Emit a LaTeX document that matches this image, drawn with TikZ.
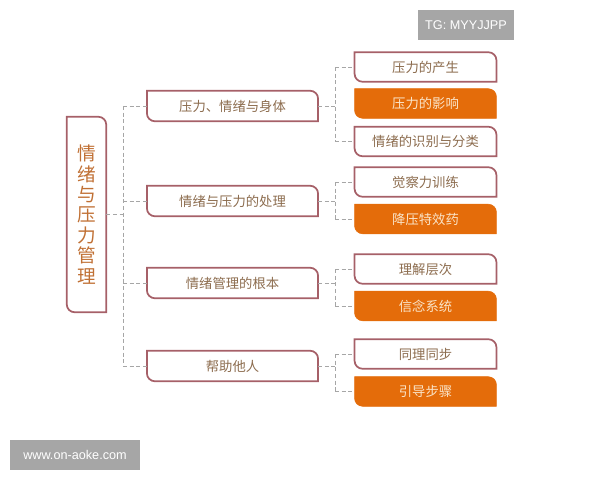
\documentclass[tikz,border=0pt]{standalone}
\usepackage{fontspec}
\newfontfamily\cjk{Noto Sans CJK SC}
\setsansfont{Liberation Sans}
\usepackage{xcolor}
\usepackage{tikz}
\usetikzlibrary{backgrounds}

\definecolor{rim}{RGB}{166,96,104}
\definecolor{tangerine}{RGB}{228,108,10}
\definecolor{cream}{RGB}{250,228,200}
\definecolor{bark}{RGB}{140,108,78}
\definecolor{rust}{RGB}{192,112,52}
\definecolor{stamp}{RGB}{166,166,166}

\tikzset{
  link/.style={draw=gray!70, dashed, dash pattern=on 3pt off 2pt, line width=0.5pt},
  topic/.style={inner sep=0pt, minimum width=128pt, minimum height=22.5pt, text=bark, font=\cjk\fontsize{10}{12}\selectfont},
  item/.style={inner sep=0pt, minimum width=106pt, minimum height=21.75pt, text=bark, font=\cjk\fontsize{10}{12}\selectfont},
  hot/.style={item, text=cream},
  wm/.style={fill=stamp, text=white, inner sep=0pt, minimum height=22.5pt, font=\sffamily\fontsize{9.5}{11}\selectfont}
}

\newcommand\leafpath[1]{(#1.north west) -- ([xshift=-6pt]#1.north east) arc[start angle=90,end angle=0,radius=6pt] -- (#1.south east) -- ([xshift=6pt]#1.south west) arc[start angle=270,end angle=180,radius=6pt] -- cycle}

\begin{document}
\begin{tikzpicture}[x=0.75pt, y=-0.75pt]
\useasboundingbox (0,0) rectangle (600,480);

\node[inner sep=0pt, minimum width=29.25pt, minimum height=146.25pt, align=center, text=rust, font=\cjk\fontsize{14}{15.3}\selectfont] (root) at (86.5,214.5) {情\\绪\\与\\压\\力\\管\\理};

\node[topic] (a) at (232.5,106) {压力、情绪与身体};
\node[topic] (b) at (232.5,201) {情绪与压力的处理};
\node[topic] (c) at (232.5,283) {情绪管理的根本};
\node[topic] (d) at (232.5,366) {帮助他人};

\node[item] (a1) at (425.5,67) {压力的产生};
\node[hot] (a2) at (425.5,103.5) {压力的影响};
\node[item] (a3) at (425.5,141.5) {情绪的识别与分类};
\node[item] (b1) at (425.5,182) {觉察力训练};
\node[hot] (b2) at (425.5,219) {降压特效药};
\node[item] (c1) at (425.5,269) {理解层次};
\node[hot] (c2) at (425.5,306) {信念系统};
\node[item] (d1) at (425.5,354) {同理同步};
\node[hot] (d2) at (425.5,391.5) {引导步骤};

\begin{scope}[on background layer]
\foreach \n in {root,a,b,c,d,a1,a3,b1,c1,d1}
  \draw[rim, line width=1.3pt] \leafpath{\n};
\foreach \n in {a2,b2,c2,d2}
  \filldraw[draw=tangerine, fill=tangerine] \leafpath{\n};
\end{scope}

% dashed tree
\coordinate (t) at (123,0);
\coordinate (s) at (335,0);
\draw[link] (root.east) -- (root.east -| t);
\draw[link] (t |- a.west) -- (t |- d.west);
\foreach \n in {a,b,c,d}
  \draw[link] (t |- \n.west) -- (\n.west);

\draw[link] (a.east) -- (a.east -| s);
\draw[link] (s |- a1.west) -- (s |- a3.west);
\draw[link] (b.east) -- (b.east -| s);
\draw[link] (s |- b1.west) -- (s |- b2.west);
\draw[link] (c.east) -- (c.east -| s);
\draw[link] (s |- c1.west) -- (s |- c2.west);
\draw[link] (d.east) -- (d.east -| s);
\draw[link] (s |- d1.west) -- (s |- d2.west);
\foreach \n in {a1,a3,b1,b2,c1,c2,d1,d2}
  \draw[link] (s |- \n.west) -- (\n.west);

\node[wm, minimum width=72pt] (tg) at (466,25) {TG: MYYJJPP};
\node[wm, minimum width=97.5pt] (web) at (75,455) {www.on-aoke.com};

\end{tikzpicture}
\end{document}
